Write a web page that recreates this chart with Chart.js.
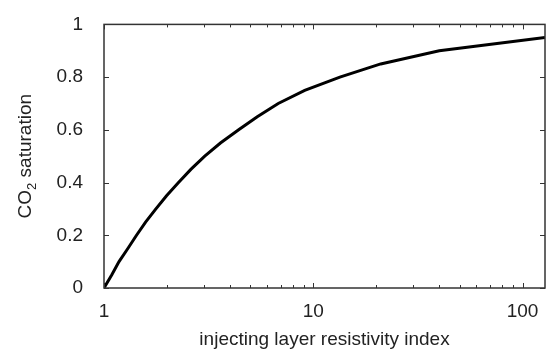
<!DOCTYPE html>
<html lang="en">
<head>
<meta charset="UTF-8">
<title>CO2 saturation</title>
<script src="https://cdn.jsdelivr.net/npm/chart.js"></script>
<style>
  body { margin: 0; background: #fff; }
  #wrap { width: 553px; height: 356px; }
</style>
</head>
<body>
<div id="wrap"><canvas id="grafico"></canvas></div>
<script>
// values
const resistivityIndex = [1, 1.09, 1.18, 1.30, 1.43, 1.58, 1.77, 1.99, 2.27, 2.6, 3.03, 3.6, 4.4, 5.4, 6.8, 9.1, 13.4, 21, 40, 128]
const saturation = [0, 0.05, 0.1, 0.15, 0.2, 0.25, 0.3, 0.35, 0.4, 0.45, 0.5, 0.55, 0.6, 0.65, 0.7, 0.75, 0.8, 0.85, 0.9, 0.95]
const xTicks = [1, 2, 3, 4, 5, 6, 7, 8, 9, 10, 20, 30, 40, 50, 60, 70, 80, 90, 100]
const xLabels = [1, 10, 100]
const yTicks = [0, 0.2, 0.4, 0.6, 0.8, 1]

const textColor = '#222'
const fontName = '"Liberation Sans", Arial, sans-serif'
const fontSize = 19

const puntos = resistivityIndex.map((v, i) => ({ x: v, y: saturation[i] }))

// frame with inward ticks, gnuplot style, plus the y title with subscript
const marco = {
  id: 'marco',
  afterDraw(chart) {
    const c = chart.ctx
    const a = chart.chartArea
    const sx = chart.scales.x
    const sy = chart.scales.y
    c.save()
    c.strokeStyle = '#333'
    c.lineWidth = 1.5
    c.strokeRect(a.left, a.top, a.right - a.left, a.bottom - a.top)
    c.lineWidth = 1
    xTicks.forEach(t => {
      const px = Math.round(sx.getPixelForValue(t)) + 0.5
      const len = xLabels.includes(t) ? 5 : 3
      c.beginPath()
      c.moveTo(px, a.bottom); c.lineTo(px, a.bottom - len)
      c.moveTo(px, a.top); c.lineTo(px, a.top + len)
      c.stroke()
    })
    yTicks.forEach(t => {
      const py = Math.round(sy.getPixelForValue(t)) + 0.5
      c.beginPath()
      c.moveTo(a.left, py); c.lineTo(a.left + 5, py)
      c.moveTo(a.right, py); c.lineTo(a.right - 5, py)
      c.stroke()
    })
    // y axis title: CO2 saturation
    c.fillStyle = textColor
    c.translate(31, (a.top + a.bottom) / 2)
    c.rotate(-Math.PI / 2)
    c.textBaseline = 'alphabetic'
    const f1 = fontSize + 'px ' + fontName
    const f2 = '13px ' + fontName
    c.font = f1
    const wCO = c.measureText('CO').width
    const wSat = c.measureText(' saturation').width
    c.font = f2
    const w2 = c.measureText('2').width
    let x0 = -(wCO + w2 + wSat) / 2
    c.font = f1
    c.fillText('CO', x0, 0)
    c.font = f2
    c.fillText('2', x0 + wCO, 5)
    c.font = f1
    c.fillText(' saturation', x0 + wCO + w2, 0)
    c.restore()
  }
}

const ctx = document.getElementById('grafico')
const grafico = new Chart(ctx, {
  type: 'scatter',
  data: {
    datasets: [{
      data: puntos,
      showLine: true,
      borderColor: '#000',
      borderWidth: 3,
      pointRadius: 0,
      tension: 0,
      fill: false
    }]
  },
  options: {
    responsive: true,
    maintainAspectRatio: false,
    animation: false,
    layout: { padding: { top: 10, right: 8, left: 0, bottom: 0 } },
    plugins: { legend: { display: false }, tooltip: { enabled: false } },
    scales: {
      x: {
        type: 'logarithmic',
        min: 1,
        max: 128,
        grid: { display: false },
        border: { display: false },
        afterBuildTicks: s => { s.ticks = xTicks.map(v => ({ value: v })) },
        afterFit: s => { s.height = 68 },
        ticks: {
          autoSkip: false,
          maxRotation: 0,
          padding: 4,
          color: textColor,
          font: { family: fontName, size: fontSize },
          callback: v => xLabels.includes(v) ? String(v) : ''
        },
        title: {
          display: true,
          text: 'injecting layer resistivity index',
          color: textColor,
          font: { family: fontName, size: fontSize },
          padding: { top: 0, bottom: 5 }
        }
      },
      y: {
        min: 0,
        max: 1,
        grid: { display: false },
        border: { display: false },
        afterBuildTicks: s => { s.ticks = yTicks.map(v => ({ value: v })) },
        afterFit: s => { s.width = 104 },
        ticks: {
          padding: 13,
          color: textColor,
          font: { family: fontName, size: fontSize },
          callback: v => String(v)
        }
      }
    }
  },
  plugins: [marco]
})
</script>
</body>
</html>
